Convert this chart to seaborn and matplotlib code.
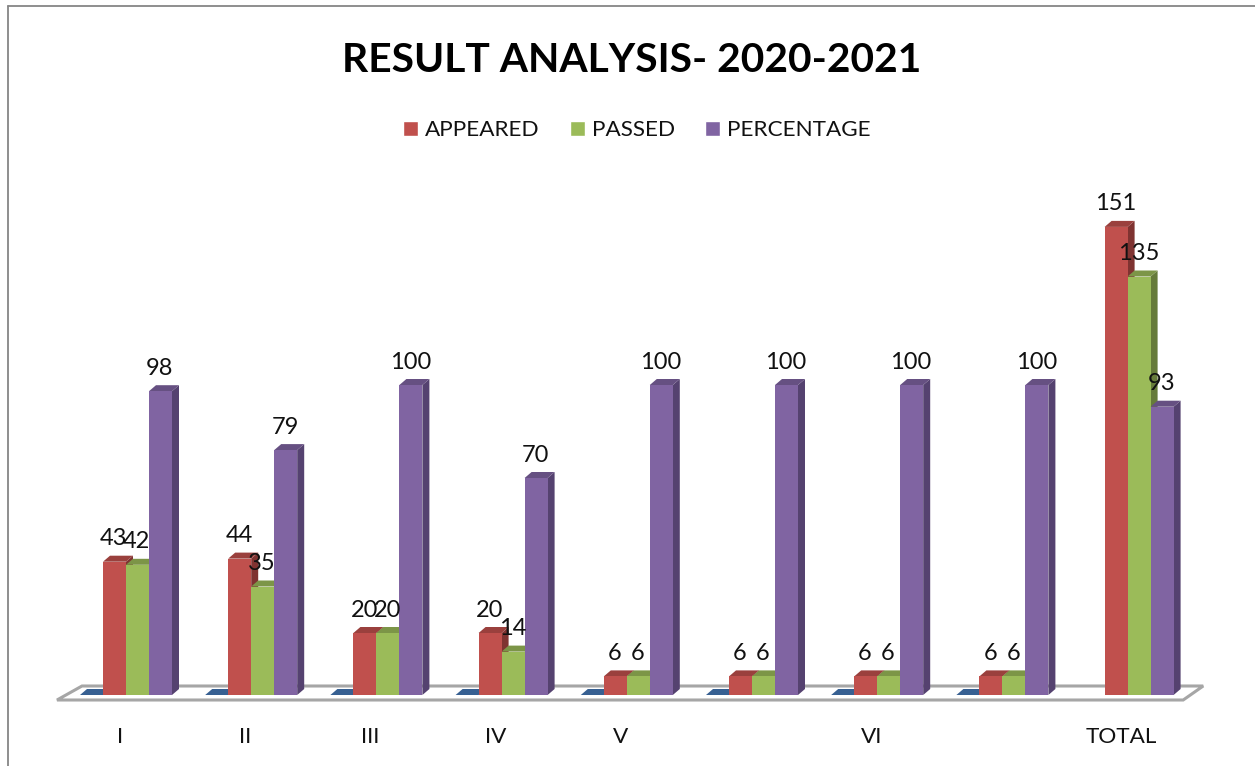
import matplotlib
matplotlib.use("Agg")
import matplotlib.pyplot as plt
import numpy as np
import pandas as pd
import seaborn as sns
from matplotlib.lines import Line2D
from matplotlib.patches import Polygon
from matplotlib.transforms import ScaledTranslation

categories = ["I", "II", "III", "IV", "V", "V-2", "VI", "VI-2", "TOTAL"]
tick_labels = ["I", "II", "III", "IV", "V", "", "VI", "", "TOTAL"]
blank = [0, 0, 0, 0, 0, 0, 0, 0, np.nan]
appeared = [43, 44, 20, 20, 6, 6, 6, 6, 151]
passed = [42, 35, 20, 14, 6, 6, 6, 6, 135]
percentage = [98, 79, 100, 70, 100, 100, 100, 100, 93]

series = ["BLANK", "APPEARED", "PASSED", "PERCENTAGE"]
front_colors = ["#376092", "#C0504D", "#9BBB59", "#8064A2"]
side_colors = ["#2C4D75", "#7F3331", "#667B3A", "#554270"]
top_colors = ["#376092", "#9A403D", "#7C9547", "#665082"]

W, H = 1255, 766
PX_X = 125.2  # pixels per category
PX_Y = 3.1    # pixels per unit
DEPTH_X = 7 / PX_X
DEPTH_Y = 6 / PX_Y


def main():
    sns.set_style("white")
    plt.rcParams["font.family"] = ["Lato", "DejaVu Sans"]

    df = pd.DataFrame({
        "cat": categories * 4,
        "series": [s for s in series for _ in categories],
        "value": blank + appeared + passed + percentage,
    })

    fig = plt.figure(figsize=(W / 100, H / 100), dpi=100)
    ax = fig.add_axes([63.4 / W, 71 / H, 9 * PX_X / W, 160 * PX_Y / H])
    sns.barplot(data=df, x="cat", y="value", hue="series", hue_order=series,
                palette=front_colors, saturation=1, width=92 / PX_X, gap=0,
                order=categories, errorbar=None, ax=ax)
    ax.set_xlim(-0.5, 8.5)
    ax.set_ylim(0, 160)
    ax.set_xlabel("")
    ax.set_ylabel("")
    ax.set_yticks([])
    ax.set_xticks(range(len(categories)))
    ax.set_xticklabels(tick_labels, fontsize=16.2, color="#111111")
    ax.tick_params(axis="x", length=0, pad=23)
    shift = ScaledTranslation(-6 / 100, 0, fig.dpi_scale_trans)
    for lab in ax.get_xticklabels():
        lab.set_transform(lab.get_transform() + shift)
    sns.despine(ax=ax, left=True, bottom=True)
    ax.patch.set_alpha(0)

    # floor of the 3d plot
    floor = [(-0.5 - 6.4 / PX_X, -5 / PX_Y), (8.5 - 7 / PX_X, -5 / PX_Y),
             (8.5 + 13 / PX_X, 9 / PX_Y), (-0.5 + 18.6 / PX_X, 9 / PX_Y)]
    ax.add_patch(Polygon(floor, closed=True, facecolor="white", edgecolor="#A6A6A6",
                         linewidth=2.2, clip_on=False, zorder=1))

    # fake 3d faces and value labels
    for i, container in enumerate(ax.containers):
        for bar in container:
            x0 = bar.get_x()
            x1 = x0 + bar.get_width()
            h = bar.get_height()
            if np.isnan(h):
                continue
            bar.set_zorder(4 + i)
            bar.set_linewidth(0)
            side = [(x1, 0), (x1 + DEPTH_X, DEPTH_Y), (x1 + DEPTH_X, h + DEPTH_Y), (x1, h)]
            top = [(x0, h), (x0 + DEPTH_X, h + DEPTH_Y), (x1 + DEPTH_X, h + DEPTH_Y), (x1, h)]
            ax.add_patch(Polygon(side, closed=True, facecolor=side_colors[i], linewidth=0,
                                 clip_on=False, zorder=3.5 + i))
            ax.add_patch(Polygon(top, closed=True, facecolor=top_colors[i], linewidth=0,
                                 clip_on=False, zorder=3.6 + i))
            if i > 0:
                ax.annotate(f"{h:.0f}", (x0 + bar.get_width() / 2, h), xytext=(-0.5, 16.5),
                            textcoords="offset points", ha="center", va="center",
                            fontsize=17, color="#111111", zorder=20, annotation_clip=False)

    handles, labels = ax.get_legend_handles_labels()
    ax.get_legend().remove()
    keep = [k for k, lab in enumerate(labels) if lab != "BLANK"]
    fig.legend([handles[k] for k in keep], [labels[k] for k in keep], ncols=3,
               loc="center", bbox_to_anchor=(637 / W, 1 - 130.5 / H), frameon=False,
               fontsize=16.2, handlelength=0.667, handleheight=0.667, handletextpad=0.3,
               columnspacing=1.35, labelcolor="#111111")

    fig.text(631.5 / W, 1 - 60 / H, "RESULT ANALYSIS- 2020-2021", ha="center", va="center",
             fontsize=29.3, fontweight="bold", color="black")

    # outer chart frame, only top and left show in the crop
    fig.add_artist(Line2D([8 / W, 8 / W], [0, 1 - 6 / H], color="#868686", linewidth=1.3))
    fig.add_artist(Line2D([8 / W, 1], [1 - 6 / H, 1 - 6 / H], color="#868686", linewidth=1.3))

    fig.savefig("out.png", dpi=100)
    plt.close(fig)


if __name__ == "__main__":
    main()
